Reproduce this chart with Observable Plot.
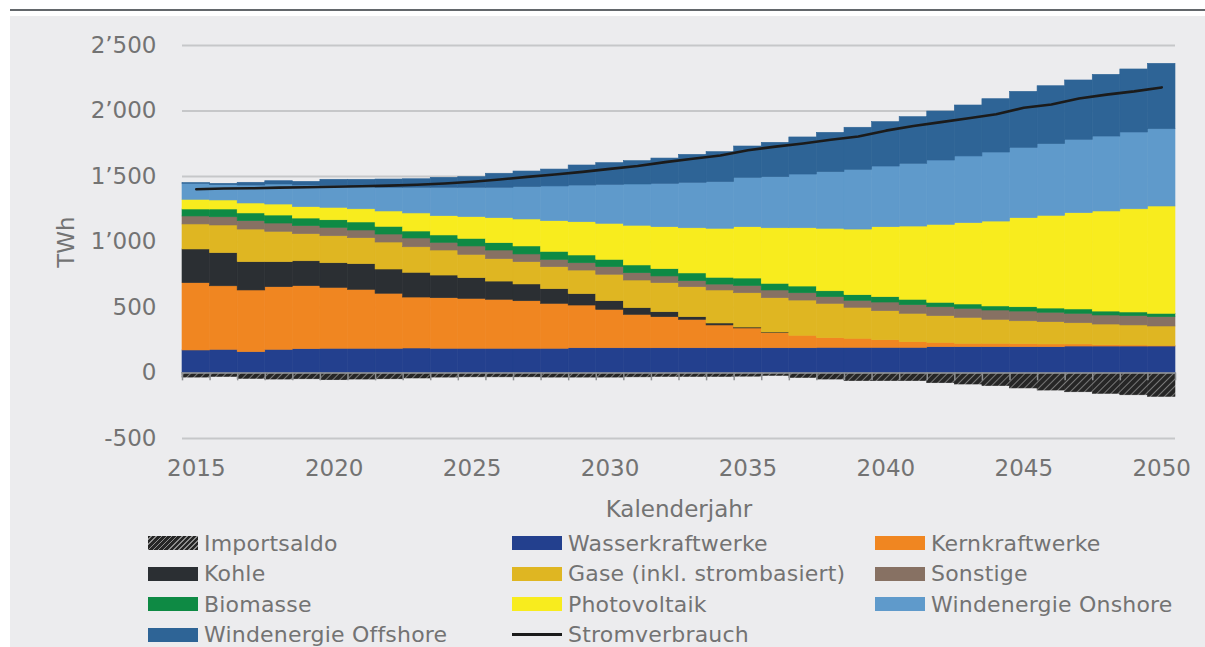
<!DOCTYPE html>
<html><head><meta charset="utf-8">
<script src="https://cdn.jsdelivr.net/npm/d3@7"></script>
<script src="https://cdn.jsdelivr.net/npm/@observablehq/plot@0.6"></script>
<style>
body{margin:0;background:#fff;font-family:"DejaVu Sans",sans-serif;}
#rule{position:absolute;left:10px;top:9px;width:1195px;height:2px;background:#63676b;}
#panel{position:absolute;left:10px;top:16px;width:1195px;height:631px;background:#ECECEE;overflow:hidden;}
#chart{position:absolute;left:0;top:0;}
.item{position:absolute;height:30px;display:flex;align-items:center;font-size:22px;letter-spacing:0.2px;color:#737373;white-space:nowrap;}
.sw{width:50px;height:14px;margin-right:6px;flex:none;}
.ln{width:50px;height:3px;margin-right:6px;flex:none;background:#1b1b1b;}
</style></head><body>
<div id="rule"></div>
<div id="panel"><div id="chart"></div><div id="legend"></div></div>
<script>
const years = [2015,2016,2017,2018,2019,2020,2021,2022,2023,2024,2025,2026,2027,2028,2029,2030,2031,2032,2033,2034,2035,2036,2037,2038,2039,2040,2041,2042,2043,2044,2045,2046,2047,2048,2049,2050];
const importsaldo = [-35,-30,-45,-50,-48,-55,-50,-48,-42,-35,-33,-33,-33,-35,-35,-35,-33,-30,-30,-30,-28,-22,-38,-50,-62,-62,-62,-78,-88,-100,-118,-134,-147,-159,-170,-182];
const wasserkraft = [172,177,159,177,182,185,185,185,187,185,185,185,185,185,189,189,189,189,189,189,189,189,189,192,192,192,192,197,197,197,197,197,202,202,202,202];
const kernkraft = [514,485,471,478,481,465,450,420,389,386,381,374,363,343,326,293,255,237,217,174,151,115,95,74,69,58,43,33,26,26,23,21,16,10,8,5];
const kohle = [257,253,216,191,190,188,196,185,189,173,158,139,128,112,87,66,51,38,20,15,7,5,0,0,0,0,0,0,0,0,0,0,0,0,0,0];
const gase = [191,211,249,232,207,206,198,206,195,191,178,171,170,168,180,202,211,222,229,252,262,262,269,262,237,222,217,204,198,183,175,170,162,158,153,148];
const sonstige = [61,63,64,63,61,64,59,61,67,59,64,66,59,56,56,58,56,51,46,45,55,59,56,51,53,66,66,68,69,71,74,72,72,69,71,71];
const biomasse = [53,59,59,61,58,58,61,59,53,56,58,56,61,61,59,56,59,56,59,52,57,51,51,45,43,41,41,34,33,31,33,32,33,30,28,26];
const photovoltaik = [74,69,76,84,87,95,101,117,138,147,166,191,206,234,254,275,303,320,345,374,392,424,445,477,501,534,559,595,621,648,680,708,735,764,788,819];
const onshore = [122,117,137,153,165,168,174,181,196,217,224,232,247,265,280,297,315,331,347,356,377,390,410,432,456,463,479,491,509,527,537,547,560,572,586,590];
const offshore = [6,10,21,25,28,46,51,63,65,76,81,107,119,129,153,166,178,193,213,229,239,262,283,300,321,339,356,374,389,407,427,442,453,471,481,499];
const stromverbrauch = [1403,1408,1410,1415,1418,1422,1425,1430,1437,1447,1460,1477,1497,1515,1535,1558,1580,1610,1635,1660,1700,1728,1752,1780,1805,1850,1885,1915,1945,1975,2025,2050,2095,2125,2150,2180];

const seriesNames = ["Importsaldo","Wasserkraftwerke","Kernkraftwerke","Kohle","Gase (inkl. strombasiert)","Sonstige","Biomasse","Photovoltaik","Windenergie Onshore","Windenergie Offshore"];
const seriesValues = [importsaldo,wasserkraft,kernkraft,kohle,gase,sonstige,biomasse,photovoltaik,onshore,offshore];
const seriesColors = ["url(#hatch)","#23408E","#F08621","#2B2F33","#DFB622","#877163","#0E8A44","#F8EC1E","#5F9ACB","#2E6496"];
const lineName = "Stromverbrauch";
const yTicks = [-500,0,500,1000,1500,2000,2500];
const xTicks = [2015,2020,2025,2030,2035,2040,2045,2050];

const table = [];
seriesNames.forEach((s, k) => years.forEach((yr, i) => table.push({year: yr, series: s, value: seriesValues[k][i]})));
const lineData = years.map((yr, i) => ({year: yr, value: stromverbrauch[i]}));
const boundaries = [...years.map(y => y - 0.5), years[years.length - 1] + 0.5];

const fmt = d3.formatLocale({decimal: ".", thousands: "\u2019", grouping: [3], currency: ["", ""], minus: "-"}).format(",");

const chart = Plot.plot({
  width: 1195, height: 512,
  marginLeft: 172, marginRight: 30, marginTop: 29, marginBottom: 90,
  style: {background: "transparent", fontFamily: "DejaVu Sans", fontSize: "22px", color: "#737373", overflow: "visible"},
  x: {domain: [2014.5, 2050.5]},
  y: {domain: [-500, 2500]},
  color: {domain: seriesNames, range: seriesColors},
  marks: [
    Plot.ruleY(yTicks, {stroke: "#c6c7c9", strokeWidth: 2}),
    Plot.rectY(table, {x1: d => d.year - 0.5, x2: d => d.year + 0.5, y: "value", fill: "series", stroke: "series", strokeWidth: 0.6, z: "series", order: seriesNames}),
    Plot.ruleY([0], {stroke: "#9a9c9f", strokeWidth: 1.5}),
    Plot.ruleX(boundaries, {y1: 0, y2: -60, stroke: "#8e9093", strokeWidth: 1.5}),
    Plot.lineY(lineData, {x: "year", y: "value", stroke: "#1b1b1b", strokeWidth: 2.6}),
    Plot.axisX({ticks: xTicks, tickSize: 0, tickPadding: 21, tickFormat: d => String(d), label: "Kalenderjahr", labelAnchor: "center", labelArrow: "none", labelOffset: 78, fontSize: 23}),
    Plot.axisY({ticks: yTicks, tickSize: 0, tickPadding: 26, tickFormat: fmt, label: "TWh", labelAnchor: "center", labelArrow: "none", labelOffset: 125, fontSize: 23})
  ]
});
chart.insertAdjacentHTML("afterbegin",
  '<defs><pattern id="hatch" patternUnits="userSpaceOnUse" width="5" height="5" patternTransform="rotate(45)">' +
  '<rect width="5" height="5" fill="#262626"></rect><line x1="0" y1="0" x2="0" y2="5" stroke="#8d8d8d" stroke-width="1.6"></line></pattern></defs>');
document.getElementById("chart").appendChild(chart);

const legend = document.getElementById("legend");
const colX = [138, 502, 865];
const items = seriesNames.map((s, k) => ({name: s, color: seriesColors[k]})).concat([{name: lineName, color: null}]);
items.forEach((it, k) => {
  const row = Math.floor(k / 3), col = k % 3;
  const div = document.createElement("div");
  div.className = "item";
  div.style.left = colX[col] + "px";
  div.style.top = (512 + row * 30.5) + "px";
  const sw = document.createElement("div");
  if (it.color === null) sw.className = "ln";
  else {
    sw.className = "sw";
    sw.style.background = it.color.startsWith("url") ? "repeating-linear-gradient(-45deg,#262626 0 2.5px,#8d8d8d 2.5px 3.6px)" : it.color;
  }
  div.appendChild(sw);
  const t = document.createElement("span");
  t.textContent = it.name;
  div.appendChild(t);
  legend.appendChild(div);
});
</script>
</body></html>
